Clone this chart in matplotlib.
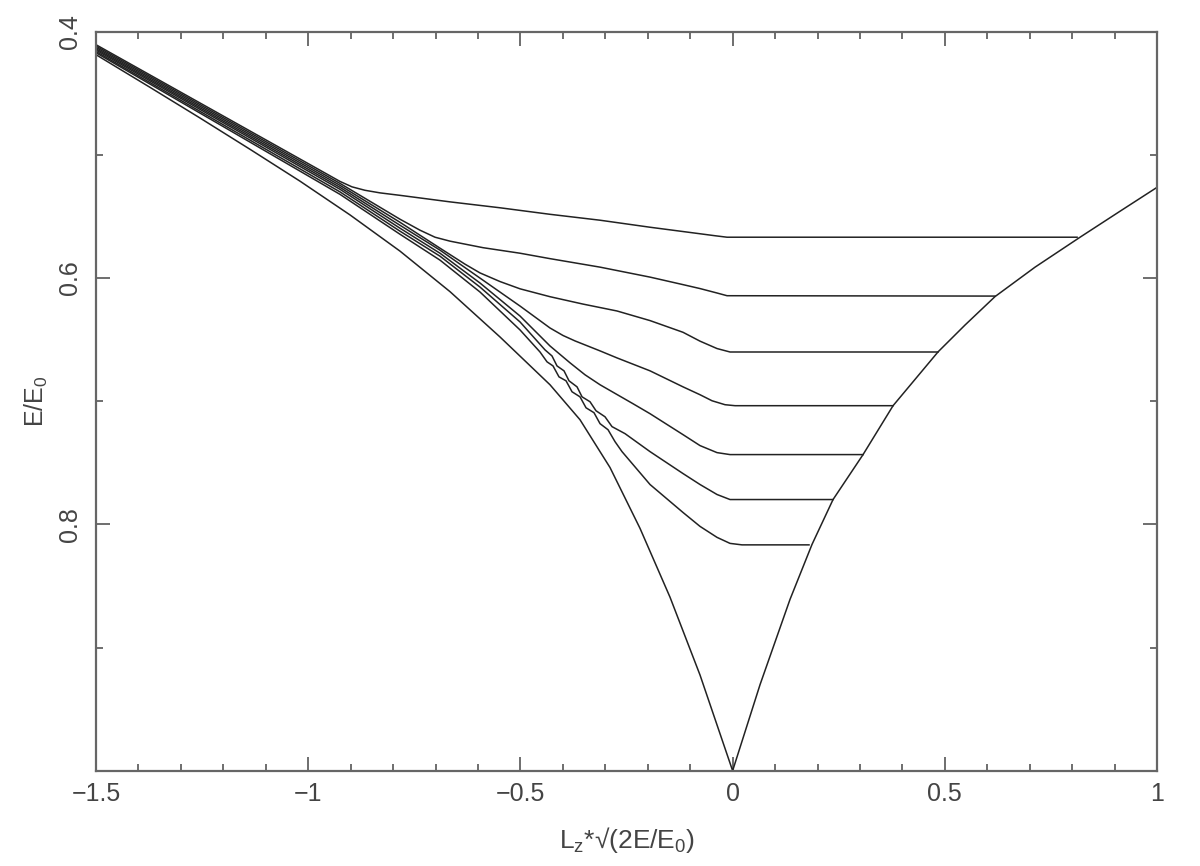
import numpy as np
import matplotlib
matplotlib.use("Agg")
import matplotlib.pyplot as plt

# ── style ───────────────────────────────────────────────────────────
plt.rcParams["font.family"] = ["Liberation Sans", "DejaVu Sans"]
plt.rcParams["mathtext.fontset"] = "custom"
plt.rcParams["mathtext.rm"] = "Liberation Sans"
plt.rcParams["mathtext.it"] = "Liberation Sans"

TXT = "#444444"
LINE = "#222222"

# ── data ────────────────────────────────────────────────────────────
# outer envelope (circular orbits)
env_x = [-1.5, -1.3728, -1.2550, -1.1372, -1.0193, -0.9015, -0.7837,
         -0.6659, -0.5481, -0.4303, -0.3596, -0.2889, -0.2182, -0.1475,
         -0.0768, 0.0,
         0.0646, 0.1352, 0.1871, 0.2366, 0.3073, 0.3780, 0.4840, 0.5476,
         0.6183, 0.7126, 0.8186, 0.9128, 1.0]
env_y = [0.4186, 0.4451, 0.4700, 0.4954, 0.5213, 0.5487, 0.5781,
         0.6110, 0.6478, 0.6866, 0.7150, 0.7538, 0.8032, 0.8591,
         0.9223, 1.0,
         0.9301, 0.8609, 0.8162, 0.7798, 0.7433, 0.7036, 0.6599, 0.6381,
         0.6150, 0.5911, 0.5668, 0.5457, 0.5263]

# family of tracks, top to bottom
c1_x = [-1.5, -0.9251, -0.8969, -0.8662, -0.8308, -0.7837, -0.6659,
        -0.5481, -0.4303, -0.3124, -0.1946, -0.0768, -0.0415, -0.0132,
        0.8116]
c1_y = [0.4105, 0.5215, 0.5259, 0.5287, 0.5308, 0.5328, 0.5381,
        0.5429, 0.5482, 0.5530, 0.5587, 0.5640, 0.5656, 0.5668,
        0.5668]

c2_x = [-1.5, -0.9251, -0.7837, -0.7366, -0.7012, -0.6659, -0.5881,
        -0.5009, -0.4303, -0.3124, -0.1946, -0.1169, -0.0768, -0.0368,
        -0.0132, 0.6183]
c2_y = [0.4116, 0.5231, 0.5522, 0.5611, 0.5668, 0.5700, 0.5753,
        0.5798, 0.5842, 0.5911, 0.5992, 0.6053, 0.6085, 0.6121,
        0.6143, 0.6146]

c3_x = [-1.5, -0.9251, -0.7837, -0.6895, -0.6305, -0.5952, -0.5481,
        -0.5009, -0.4303, -0.3525, -0.2724, -0.1946, -0.1169, -0.0768,
        -0.0368, -0.0061, 0.4840]
c3_y = [0.4127, 0.5247, 0.5547, 0.5757, 0.5887, 0.5958, 0.6028,
        0.6087, 0.6151, 0.6211, 0.6267, 0.6345, 0.6440, 0.6512,
        0.6572, 0.6600, 0.6600]

c4_x = [-1.5, -0.9251, -0.7837, -0.6895, -0.5952, -0.5009, -0.4303,
        -0.3996, -0.3714, -0.3124, -0.2724, -0.1946, -0.1169, -0.0768,
        -0.0485, -0.0179, 0.0057, 0.3780]
c4_y = [0.4138, 0.5263, 0.5571, 0.5773, 0.6000, 0.6227, 0.6405,
        0.6466, 0.6510, 0.6591, 0.6648, 0.6753, 0.6883, 0.6947,
        0.6996, 0.7028, 0.7036, 0.7036]

c5_x = [-1.5, -0.9251, -0.7837, -0.6895, -0.5952, -0.5009, -0.4303,
        -0.3831, -0.3478, -0.3124, -0.2347, -0.1946, -0.1169, -0.0768,
        -0.0368, -0.0061, 0.3073]
c5_y = [0.4148, 0.5279, 0.5595, 0.5798, 0.6040, 0.6308, 0.6551,
        0.6688, 0.6785, 0.6866, 0.7020, 0.7101, 0.7271, 0.7360,
        0.7417, 0.7433, 0.7433]

c6_x = [-1.5, -0.9251, -0.7837, -0.6895, -0.5952, -0.5009, -0.4420,
        -0.4256, -0.4138, -0.3973, -0.3855, -0.3666, -0.3548, -0.3360,
        -0.3219, -0.3007, -0.2842, -0.2535, -0.1946, -0.1169, -0.0768,
        -0.0368, -0.0061, 0.2366]
c6_y = [0.4160, 0.5300, 0.5619, 0.5822, 0.6073, 0.6356, 0.6583,
        0.6632, 0.6713, 0.6753, 0.6834, 0.6883, 0.6964, 0.7004,
        0.7077, 0.7126, 0.7206, 0.7263, 0.7409, 0.7587, 0.7676,
        0.7757, 0.7798, 0.7798]

c7_x = [-1.5, -0.9251, -0.7837, -0.6895, -0.5952, -0.5009, -0.4538,
        -0.4373, -0.4232, -0.4091, -0.3925, -0.3784, -0.3596, -0.3454,
        -0.3266, -0.3124, -0.2936, -0.2771, -0.2606, -0.1946, -0.1169,
        -0.0768, -0.0368, -0.0061, 0.0221, 0.1800]
c7_y = [0.4170, 0.5320, 0.5644, 0.5854, 0.6113, 0.6421, 0.6600,
        0.6680, 0.6713, 0.6802, 0.6834, 0.6923, 0.6964, 0.7053,
        0.7093, 0.7182, 0.7231, 0.7328, 0.7409, 0.7676, 0.7903,
        0.8016, 0.8105, 0.8154, 0.8166, 0.8166]

tracks = [(c1_x, c1_y), (c2_x, c2_y), (c3_x, c3_y), (c4_x, c4_y),
          (c5_x, c5_y), (c6_x, c6_y), (c7_x, c7_y)]

x_major = [-1.5, -1, -0.5, 0, 0.5, 1]
x_major_labels = ["\u22121.5", "\u22121", "\u22120.5", "0", "0.5", "1"]
y_major = [0.4, 0.6, 0.8]
y_major_labels = ["0.4", "0.6", "0.8"]

# ── figure ──────────────────────────────────────────────────────────
fig = plt.figure(figsize=(12, 8.66), dpi=100)
ax = fig.add_axes([0.080, 0.110, 0.8842, 0.8533])

ax.plot(env_x, env_y, color=LINE, lw=1.1, solid_joinstyle="round")
for tx, ty in tracks:
    ax.plot(tx, ty, color=LINE, lw=1.1, solid_joinstyle="round")

ax.set_xlim(-1.5, 1.0)
ax.set_ylim(1.0, 0.4)

ax.set_xticks(x_major)
ax.set_xticklabels(x_major_labels)
ax.set_xticks(np.arange(-1.5, 1.001, 0.1), minor=True)
ax.set_yticks(y_major)
ax.set_yticklabels(y_major_labels, rotation=90, va="center")
ax.set_yticks([0.5, 0.7, 0.9], minor=True)

ax.tick_params(which="both", direction="in", top=True, right=True,
               colors="#555555", labelcolor=TXT, labelsize=18, width=1.2)
ax.tick_params(which="major", length=10, pad=8)
ax.tick_params(which="minor", length=5)
ax.tick_params(axis="y", which="major", pad=10)

for s in ax.spines.values():
    s.set_color("#666666")
    s.set_linewidth(1.6)

ax.set_xlabel("L$_z$*\u221a(2E/E$_0$)", fontsize=19, color=TXT, labelpad=14)
ax.set_ylabel("E/E$_0$", fontsize=18, color=TXT, labelpad=6)

fig.savefig("out.png", dpi=100)
